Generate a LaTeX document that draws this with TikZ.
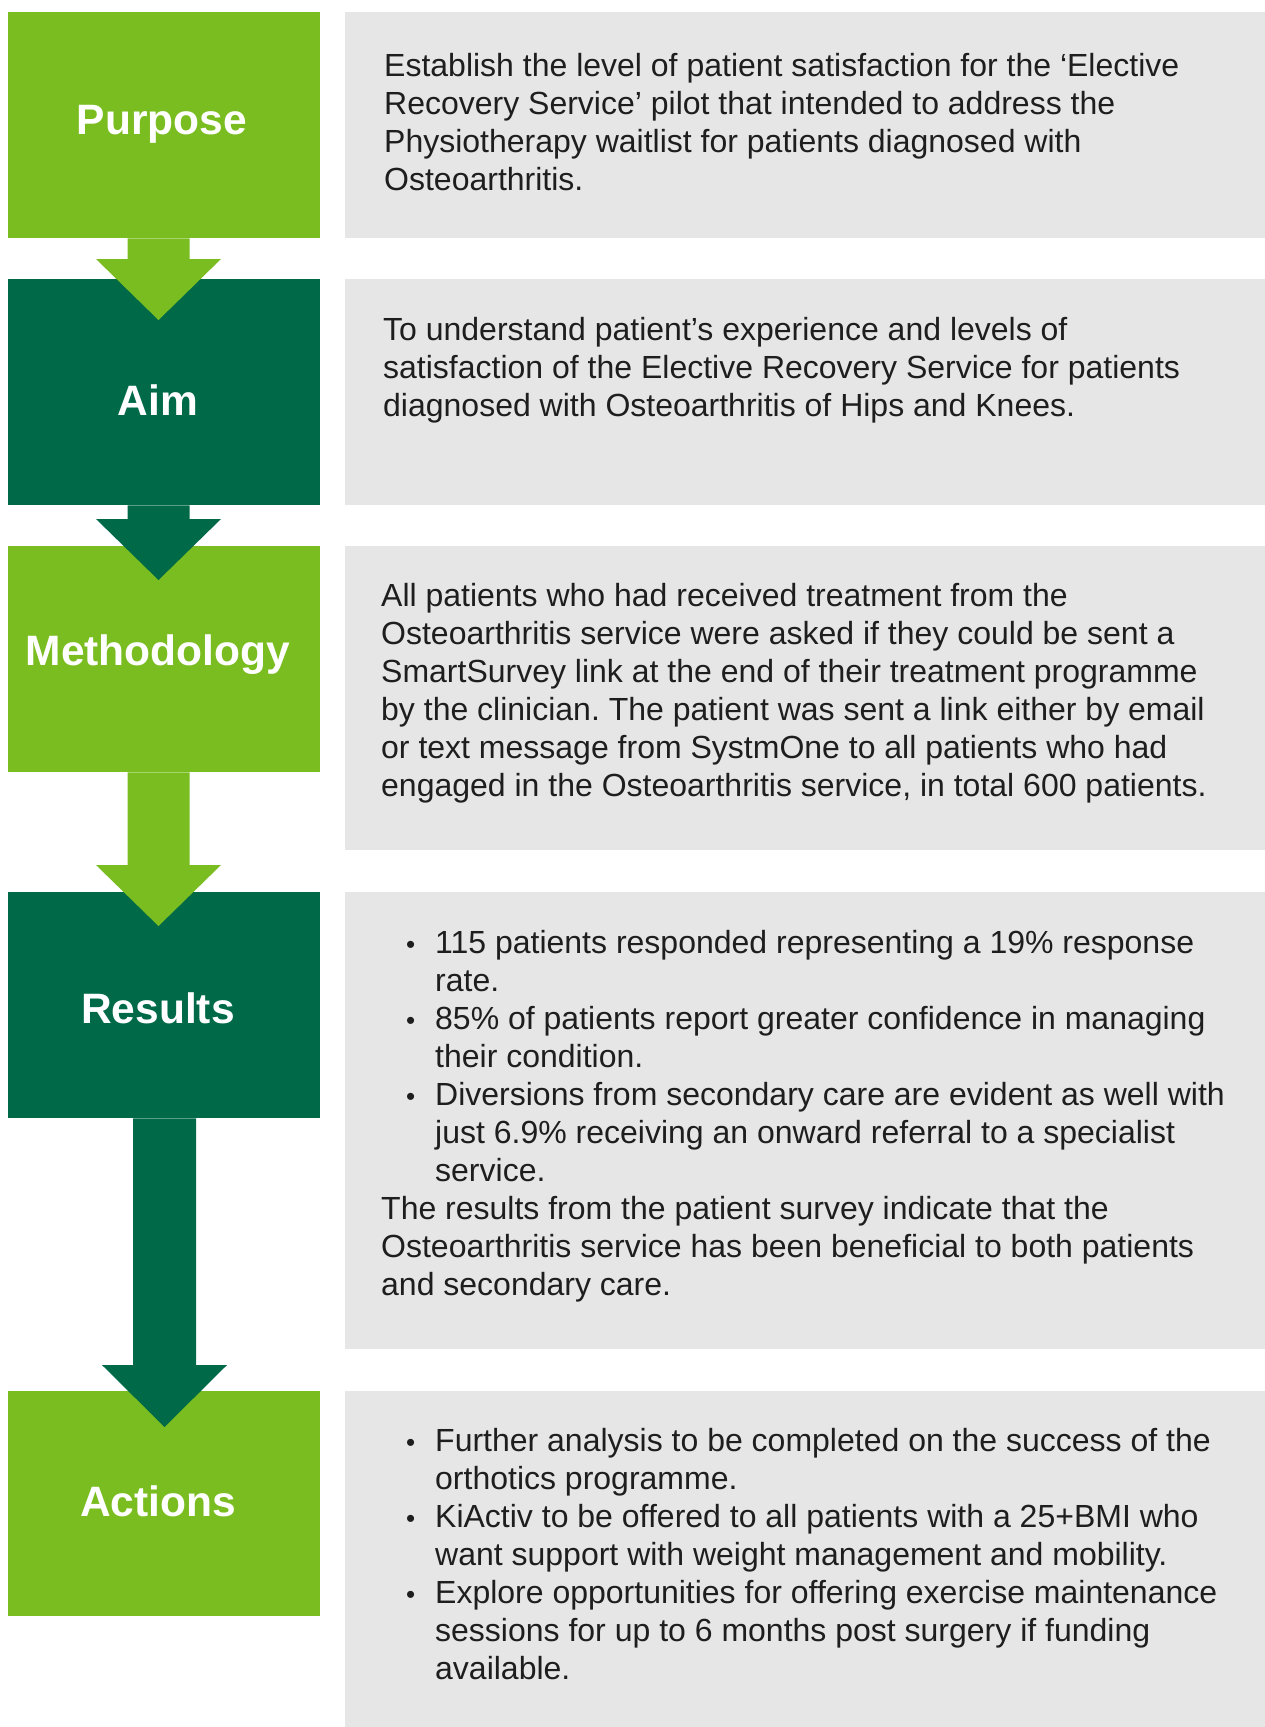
\documentclass[tikz,border=0pt]{standalone}
\usepackage{fontspec}
\setmainfont{Liberation Sans}
\usetikzlibrary{calc}
\frenchspacing
\definecolor{lgreen}{HTML}{7ABD20}
\definecolor{dgreen}{HTML}{006A48}
\definecolor{panel}{HTML}{E6E6E6}
\definecolor{ink}{HTML}{1E1E1E}
\newcommand\bodyfont{\fontsize{32}{38}\selectfont}
\newcommand\bitem[1]{\makebox[54pt][l]{\hspace{25pt}{\fontsize{26}{38}\selectfont •}}#1}
\newcommand\bcont[1]{\hspace*{54pt}#1}
\newcommand\blockarr[6]{%
  \fill[#1] let \p1=(#2), \p2=(#3) in
    (\x1-#4,\y1) -- (\x1+#4,\y1) -- (\x1+#4,\y2+#6) -- (\x1+#5,\y2+#6)
    -- (\x1,\y2) -- (\x1-#5,\y2+#6) -- (\x1-#4,\y2+#6) -- cycle;}
\tikzset{
  stage/.style={rectangle, inner sep=0pt, anchor=north west, minimum width=312pt, minimum height=226pt},
  lstage/.style={stage, fill=lgreen},
  dstage/.style={stage, fill=dgreen},
  panelbox/.style={rectangle, inner sep=0pt, anchor=north west, fill=panel, minimum width=920pt},
  title/.style={anchor=base, text=white, font=\fontsize{42.5}{48}\selectfont\bfseries, inner sep=0pt},
  body/.style={anchor=base west, inner sep=0pt, text=ink}
}
\begin{document}
\begin{tikzpicture}[x=1pt,y=1pt]
\useasboundingbox[fill=white] (0,0) rectangle (1265,-1727);
% left stage boxes
\node[lstage] (purpose) at (8,-12) {};
\node[dstage] (aim) at (8,-279) {};
\node[lstage] (method) at (8,-546) {};
\node[dstage] (results) at (8,-892) {};
\node[lstage, minimum height=225pt] (actions) at (8,-1391) {};
% right panels
\node[panelbox, minimum height=226pt] (p1) at (345,-12) {};
\node[panelbox, minimum height=226pt] (p2) at (345,-279) {};
\node[panelbox, minimum height=304pt] (p3) at (345,-546) {};
\node[panelbox, minimum height=457pt] (p4) at (345,-892) {};
\node[panelbox, minimum height=336pt] (p5) at (345,-1391) {};
% arrows
\coordinate (a1s) at ($(purpose.south west)+(150.5,0)$);
\coordinate (a1t) at ($(aim.north west)+(150.5,-41)$);
\blockarr{lgreen}{a1s}{a1t}{31pt}{62.5pt}{61pt}
\coordinate (a2s) at ($(aim.south west)+(150.5,0)$);
\coordinate (a2t) at ($(method.north west)+(150.5,-34)$);
\blockarr{dgreen}{a2s}{a2t}{31pt}{62.5pt}{61pt}
\coordinate (a3s) at ($(method.south west)+(150.5,0)$);
\coordinate (a3t) at ($(results.north west)+(150.5,-34)$);
\blockarr{lgreen}{a3s}{a3t}{31pt}{62.5pt}{61pt}
\coordinate (a4s) at ($(results.south west)+(156.5,0)$);
\coordinate (a4t) at ($(actions.north west)+(156.5,-36)$);
\blockarr{dgreen}{a4s}{a4t}{31.5pt}{62.5pt}{62pt}
% titles
\node[title] (tpurpose) at (162,-134) {Purpose};
\node[title] (taim) at (158,-415) {Aim};
\node[title] (tmethod) at (158,-665) {Methodology};
\node[title] (tresults) at (158,-1023) {Results};
\node[title] (tactions) at (158,-1516) {Actions};
% body texts
\node[body] (x1) at (384,-76) {\begin{minipage}[t]{870pt}\bodyfont\raggedright
Establish the level of patient satisfaction for the ‘Elective\\
Recovery Service’ pilot that intended to address the\\
Physiotherapy waitlist for patients diagnosed with\\
Osteoarthritis.\end{minipage}};
\node[body] (x2) at (383,-340) {\begin{minipage}[t]{870pt}\bodyfont\raggedright
To understand patient’s experience and levels of\\
satisfaction of the Elective Recovery Service for patients\\
diagnosed with Osteoarthritis of Hips and Knees.\end{minipage}};
\node[body] (x3) at (381,-606) {\begin{minipage}[t]{870pt}\bodyfont\raggedright
All patients who had received treatment from the\\
Osteoarthritis service were asked if they could be sent a\\
SmartSurvey link at the end of their treatment programme\\
by the clinician. The patient was sent a link either by email\\
or text message from SystmOne to all patients who had\\
engaged in the Osteoarthritis service, in total 600 patients.\end{minipage}};
\node[body] (x4) at (381,-953) {\begin{minipage}[t]{870pt}\bodyfont\raggedright
\bitem{115 patients responded representing a 19\% response}\\
\bcont{rate.}\\
\bitem{85\% of patients report greater confidence in managing}\\
\bcont{their condition.}\\
\bitem{Diversions from secondary care are evident as well with}\\
\bcont{just 6.9\% receiving an onward referral to a specialist}\\
\bcont{service.}\\
The results from the patient survey indicate that the\\
Osteoarthritis service has been beneficial to both patients\\
and secondary care.\end{minipage}};
\node[body] (x5) at (381,-1451) {\begin{minipage}[t]{870pt}\bodyfont\raggedright
\bitem{Further analysis to be completed on the success of the}\\
\bcont{orthotics programme.}\\
\bitem{KiActiv to be offered to all patients with a 25+BMI who}\\
\bcont{want support with weight management and mobility.}\\
\bitem{Explore opportunities for offering exercise maintenance}\\
\bcont{sessions for up to 6 months post surgery if funding}\\
\bcont{available.}\end{minipage}};
\end{tikzpicture}
\end{document}
